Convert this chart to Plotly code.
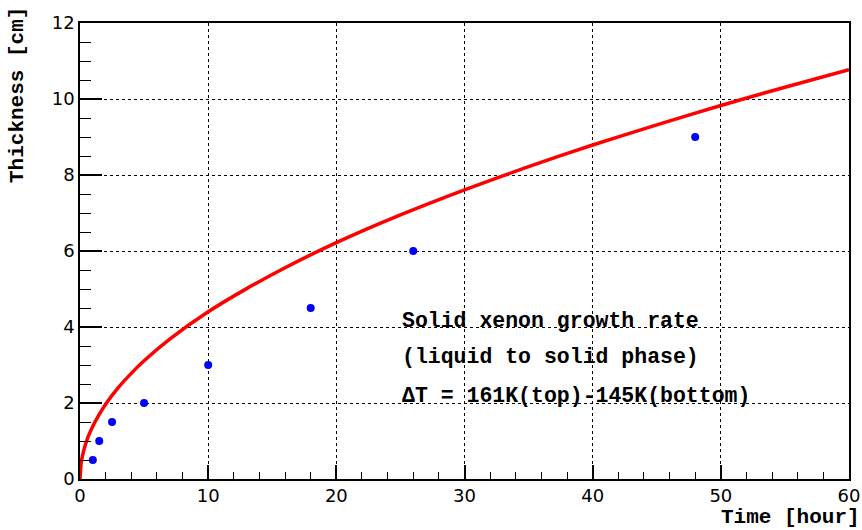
import plotly.graph_objects as go

# Measured solid xenon thickness
meas_time = [1, 1.5, 2.5, 5, 10, 18, 26, 48]
meas_thick = [0.5, 1.0, 1.5, 2.0, 3.0, 4.5, 6.0, 9.0]

# Growth-model curve samples
model_time = [0, 0.1, 0.3, 0.6, 1, 1.5, 2, 3, 4, 5, 7, 10, 13, 16, 20, 25,
              30, 35, 40, 45, 50, 55, 60]
model_thick = [0, 0.44, 0.76, 1.08, 1.39, 1.70, 1.97, 2.41, 2.78, 3.11, 3.68,
               4.40, 5.01, 5.56, 6.22, 6.95, 7.61, 8.22, 8.79, 9.32, 9.83,
               10.31, 10.77]

x_ticks = [0, 10, 20, 30, 40, 50, 60]
y_ticks = [0, 2, 4, 6, 8, 10, 12]

notes = ["Solid xenon growth rate",
         "(liquid to solid phase)",
         "\u0394T = 161K(top)-145K(bottom)"]
note_y = [4.16, 3.21, 2.18]

mono = "Liberation Mono, Courier New, monospace"
sans = "DejaVu Sans, Arial, sans-serif"

fig = go.Figure()
fig.add_trace(go.Scatter(
    x=model_time, y=model_thick, mode="lines",
    line=dict(color="#ff0000", width=3.5, shape="spline", smoothing=0.6),
    showlegend=False, hoverinfo="skip"))
fig.add_trace(go.Scatter(
    x=meas_time, y=meas_thick, mode="markers",
    marker=dict(color="#0000ff", size=8),
    showlegend=False))

axis_common = dict(
    showline=True, linecolor="black", linewidth=1.5, mirror=True,
    showgrid=True, gridcolor="black", gridwidth=1, griddash="dot",
    ticks="inside", tickcolor="black", tickwidth=1.5,
    zeroline=False, automargin=False,
    tickfont=dict(family=sans, size=18, color="black"),
)

fig.update_xaxes(range=[0, 60], tickvals=x_ticks, ticklen=14,
                 minor=dict(dtick=2, ticks="inside", ticklen=7,
                            tickcolor="black", tickwidth=1.2, showgrid=False),
                 **axis_common)
fig.update_yaxes(range=[0, 12], tickvals=y_ticks, ticklen=22,
                 minor=dict(dtick=0.5, ticks="inside", ticklen=11,
                            tickcolor="black", tickwidth=1.2, showgrid=False),
                 **axis_common)

for txt, yv in zip(notes, note_y):
    fig.add_annotation(x=25.0, y=yv, xref="x", yref="y",
                       text="<b>" + txt + "</b>",
                       showarrow=False, xanchor="left", yanchor="middle",
                       font=dict(family=mono, size=21.5, color="black"))

# Axis titles, ROOT style (right/top aligned)
fig.add_annotation(x=1.0, xref="paper", xanchor="right", xshift=13,
                   y=0, yref="paper", yanchor="top", yshift=-25,
                   text="<b>Time [hour]</b>", showarrow=False,
                   font=dict(family=mono, size=21, color="black"))
fig.add_annotation(x=0, xref="paper", xanchor="center", xshift=-63,
                   y=1.0, yref="paper", yanchor="top", yshift=18,
                   text="<b>Thickness [cm]</b>", showarrow=False, textangle=-90,
                   font=dict(family=mono, size=21, color="black"))

fig.update_layout(
    width=862, height=530,
    margin=dict(l=80, r=13, t=23, b=51),
    paper_bgcolor="white", plot_bgcolor="white",
)

fig.write_html("out.html")
